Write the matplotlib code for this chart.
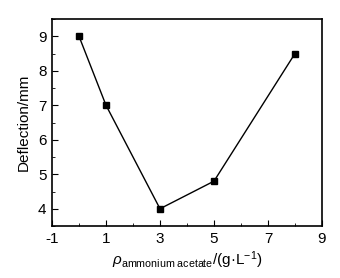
import matplotlib
matplotlib.use("Agg")
import matplotlib.pyplot as plt
from matplotlib.ticker import MultipleLocator

plt.rcParams['font.family'] = ['Liberation Sans', 'DejaVu Sans']
plt.rcParams['mathtext.fontset'] = 'custom'
plt.rcParams['mathtext.rm'] = 'Liberation Sans'
plt.rcParams['mathtext.it'] = 'Liberation Sans:italic'
plt.rcParams['axes.unicode_minus'] = False

conc = [0, 1, 3, 5, 8]
deflection = [9.0, 7.0, 4.0, 4.8, 8.5]
xticks = [-1, 1, 3, 5, 7, 9]
yticks = [4, 5, 6, 7, 8, 9]

fig = plt.figure(figsize=(3.4, 2.78), dpi=100)
ax = fig.add_axes([52/340, 1 - 226/278, 270/340, 207/278])

ax.plot(conc, deflection, color='black', lw=1.0, marker='s', ms=4.5)

ax.set_xlim(-1, 9)
ax.set_ylim(3.5, 9.5)
ax.set_xticks(xticks)
ax.set_yticks(yticks)
ax.xaxis.set_minor_locator(MultipleLocator(1))
ax.yaxis.set_minor_locator(MultipleLocator(0.5))
ax.tick_params(direction='in', which='major', length=4, width=0.8, labelsize=11, pad=4)
ax.tick_params(direction='in', which='minor', length=2, width=0.6)
for s in ax.spines.values():
    s.set_linewidth(1.2)

ax.set_ylabel('Deflection/mm', fontsize=11, labelpad=5)
ax.set_xlabel(r'$\rho_{\rm ammonium\ acetate}$/(g·L$^{-1}$)', fontsize=11, labelpad=3)

fig.savefig('out.png', dpi=100)
